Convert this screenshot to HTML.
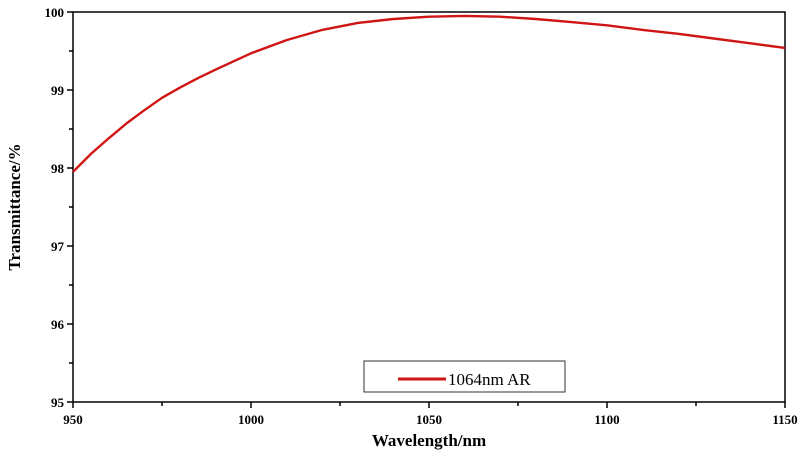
<!DOCTYPE html>
<html><head><meta charset="utf-8"><style>
html,body{margin:0;padding:0;background:#fff;}
svg text{font-family:"Liberation Serif",serif;font-weight:bold;fill:#000;}
</style></head><body>
<svg width="804" height="454" viewBox="0 0 804 454">
<g id="axes"></g>
<path id="curve" fill="none" stroke="#d01515" stroke-width="2.4" stroke-linejoin="round"/>
<g>
<rect x="364" y="361" width="201" height="31" fill="#fff" stroke="#333" stroke-width="1"/>
<line x1="398" y1="379" x2="446" y2="379" stroke="#d01515" stroke-width="3"/>
<text x="448" y="385" font-size="17" style="font-weight:normal">1064nm AR</text>
</g>
<text x="429" y="446" font-size="17" text-anchor="middle">Wavelength/nm</text>
<text transform="translate(20,207) rotate(-90)" font-size="17" text-anchor="middle">Transmittance/%</text>
</svg>
<script>
const wavelengths=[950,955,960,965,970,975,980,985,990,1000,1010,1020,1030,1040,1050,1060,1070,1080,1090,1100,1110,1120,1130,1140,1150];
const transmittance=[97.95,98.18,98.38,98.57,98.74,98.9,99.03,99.15,99.26,99.47,99.64,99.77,99.86,99.91,99.94,99.95,99.94,99.91,99.87,99.83,99.77,99.72,99.66,99.6,99.54];
const xTicks=[950,1000,1050,1100,1150];
const yTicks=[95,96,97,98,99,100];
const L=73,R=785,T=12,B=402;
const sx=v=>L+(v-950)/200*(R-L);
const sy=v=>B-(v-95)/5*(B-T);
const NS="http://www.w3.org/2000/svg";
const ax=document.getElementById('axes');
function mk(tag,attrs){const e=document.createElementNS(NS,tag);for(const k in attrs)e.setAttribute(k,attrs[k]);ax.appendChild(e);return e;}
const frame=mk('rect',{x:L,y:T,width:R-L,height:B-T,fill:'none',stroke:'#000','stroke-width':1.5});


for(let v=950;v<=1150;v+=25){const major=xTicks.includes(v);
 const t=mk('line',{x1:sx(v),x2:sx(v),y1:B,y2:B+(major?6:4),stroke:'#000','stroke-width':1.5});
 
 }
xTicks.forEach(v=>{const t=mk('text',{x:sx(v),y:B+22,'font-size':13,'text-anchor':'middle'});t.textContent=v;
 
 });
for(let v=95;v<=100;v+=0.5){const major=Math.abs(v-Math.round(v))<1e-6;
 const t=mk('line',{x1:L-(major?6:4),x2:L,y1:sy(v),y2:sy(v),stroke:'#000','stroke-width':1.5});
 
 }
yTicks.forEach(v=>{const t=mk('text',{x:L-9,y:sy(v)+5,'font-size':13,'text-anchor':'end'});t.textContent=v;
 
 });
let d='';
wavelengths.forEach((w,i)=>{d+=(i?'L':'M')+sx(w).toFixed(1)+','+sy(transmittance[i]).toFixed(1);});
document.getElementById('curve').setAttribute('d',d);
</script>
</body></html>
